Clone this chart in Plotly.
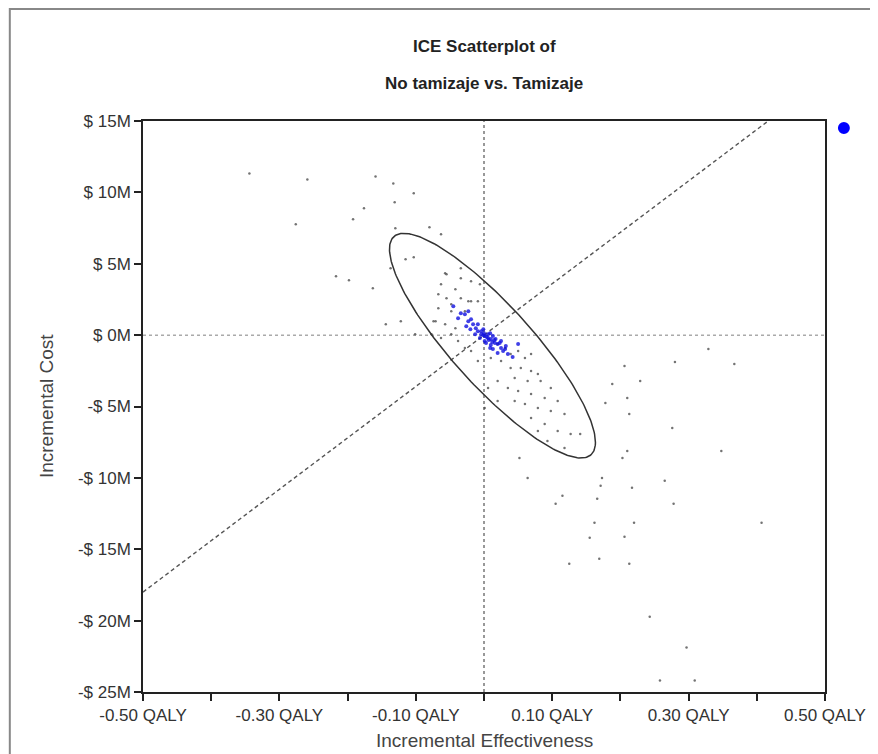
import numpy as np
import plotly.graph_objects as go

# ---------------- data ----------------
title_lines = ["ICE Scatterplot of", "No tamizaje vs. Tamizaje"]
x_title = "Incremental Effectiveness"
y_title = "Incremental Cost"

x_tick_vals = [-0.5, -0.4, -0.3, -0.2, -0.1, 0.0, 0.1, 0.2, 0.3, 0.4, 0.5]
x_tick_text = ["-0.50 QALY", "", "-0.30 QALY", "", "-0.10 QALY", "", "0.10 QALY", "", "0.30 QALY", "", "0.50 QALY"]
y_tick_vals = [15, 10, 5, 0, -5, -10, -15, -20, -25]
y_tick_text = ["$ 15M", "$ 10M", "$ 5M", "$ 0M", "-$ 5M", "-$ 10M", "-$ 15M", "-$ 20M", "-$ 25M"]

# simulation points (incremental QALY, incremental cost in $M)
grey_x = [-0.344, -0.259, -0.159, -0.133, -0.103, -0.176, -0.192, -0.276, -0.131, -0.130, -0.080,
          -0.217, -0.198, -0.163, -0.137, -0.115, -0.103, -0.144, -0.122, -0.101, -0.063, -0.055,
          -0.034, -0.067, -0.048, -0.074, -0.023,
          -0.063, -0.042, -0.055, -0.034, -0.019, -0.009, -0.067, -0.048, -0.028, -0.071, -0.057,
          -0.042, -0.077, -0.063, -0.048, -0.038, 0.020, 0.031, 0.039, 0.050, 0.060, 0.069, 0.025,
          0.039, 0.054, 0.069, 0.079, 0.045, 0.064, 0.083, 0.098, 0.020, 0.035, 0.050, 0.069, 0.089,
          0.108, 0.045, 0.060, 0.079, 0.098, 0.118, 0.069, 0.089, 0.108, 0.127, 0.093, 0.118, 0.141,
          0.079, 0.020, 0.006, 0.001, -0.019, -0.009, 0.010, -0.028, -0.019, -0.006, -0.034, -0.057,
          0.329, 0.280, 0.367, 0.229, 0.206, 0.188, 0.210, 0.178, 0.213, 0.276, 0.348, 0.210, 0.203,
          0.173, 0.171, 0.217, 0.265, 0.278, 0.166, 0.115, 0.105, 0.064, 0.052, 0.162, 0.220, 0.407,
          0.206, 0.155, 0.169, 0.213, 0.125, 0.243, 0.297, 0.258, 0.309]
grey_y = [11.33, 10.91, 11.12, 10.63, 9.93, 8.88, 8.11, 7.76, 9.30, 7.48, 7.55,
          4.13, 3.85, 3.29, 4.69, 5.31, 5.45, 0.77, 0.98, 0.07, 7.06, 4.27,
          3.99, 2.87, 2.17, 0.98, 2.38,
          3.57, 3.22, 2.59, 2.59, 2.38, 2.38, 1.89, 1.68, 1.68, 0.98, 0.77,
          0.49, 0.07, -0.21, 0.07, -0.42, -0.63, -0.91, -1.33, -1.12, -1.61, -1.33, -1.82,
          -2.31, -2.31, -2.52, -2.73, -3.01, -3.22, -3.22, -3.71, -3.22, -3.71, -3.92, -4.13, -4.41,
          -4.62, -4.62, -4.83, -5.10, -5.31, -5.52, -5.80, -6.22, -6.71, -6.92, -7.41, -7.90, -6.92,
          -6.71, -4.62, -3.71, -5.10, -1.12, -1.82, -1.61, -0.91, 3.78, 3.57, 4.69, 4.34,
          -0.98, -1.89, -2.03, -3.22, -2.17, -3.43, -4.41, -4.76, -5.52, -6.50, -8.11, -8.11, -8.60,
          -10.00, -10.56, -10.70, -10.21, -11.82, -11.47, -11.26, -11.82, -10.00, -8.60, -13.15, -13.15, -13.15,
          -14.13, -14.20, -15.66, -16.01, -16.01, -19.72, -21.89, -24.20, -24.20]

blue_x = [-0.009, -0.004, 0.001, 0.006, 0.010, 0.016, 0.020, 0.025, 0.031, -0.012, -0.016, -0.023,
          -0.028, -0.034, -0.020, -0.001, 0.009, 0.013, 0.003, 0.017, 0.023, 0.032, 0.020, 0.013,
          -0.006, -0.013, -0.019, -0.026, 0.028, 0.001, -0.004, 0.006, 0.010, 0.035, -0.038, -0.009,
          0.009, 0.025, -0.001, 0.004, 0.007, 0.000, 0.012, 0.015, -0.045, 0.042, -0.023, 0.050]
blue_y = [0.28, 0.07, -0.07, -0.21, -0.28, -0.56, -0.63, -0.91, -0.98, 0.49, 0.77, 0.98,
          1.47, 1.54, 0.42, 0.42, 0.14, -0.07, -0.56, -0.28, -0.56, -0.77, -1.26, -0.98,
          -0.21, 0.07, 1.12, 0.63, -1.12, -0.42, 0.28, 0.07, -0.70, -1.33, 1.19, 0.77,
          -0.91, -0.42, 0.00, -0.14, -0.35, 0.14, -0.49, -0.35, 2.03, -1.54, 1.68, -0.63]

# confidence ellipse parameters
ell_center = [0.0124, -0.74]
ell_half_range = [0.151, 7.87]
ell_corr = -0.86

# willingness-to-pay line slope ($M per QALY)
wtp_slope = 36.0
wtp_x = [-0.5, 0.5]

# ---------------- figure ----------------
t = np.linspace(0, 2 * np.pi, 241)
ell_x = ell_center[0] + ell_half_range[0] * np.cos(t)
ell_y = ell_center[1] + ell_half_range[1] * (ell_corr * np.cos(t) + np.sqrt(1 - ell_corr ** 2) * np.sin(t))

fig = go.Figure()
fig.add_trace(go.Scatter(x=wtp_x, y=[wtp_slope * v for v in wtp_x], mode="lines",
                         line=dict(color="#555555", width=1.4, dash="4px,3px"), hoverinfo="skip"))
fig.add_trace(go.Scatter(x=grey_x, y=grey_y, mode="markers",
                         marker=dict(size=2.5, color="#444444", opacity=0.75)))
fig.add_trace(go.Scatter(x=blue_x, y=blue_y, mode="markers",
                         marker=dict(size=4, color="#1010e0", opacity=0.8)))
fig.add_trace(go.Scatter(x=ell_x, y=ell_y, mode="lines",
                         line=dict(color="#333333", width=1.5), hoverinfo="skip"))

# zero reference lines
fig.add_shape(type="line", xref="x", yref="paper", x0=0, x1=0, y0=0, y1=1,
              line=dict(color="#777777", width=1.5, dash="dot"), layer="below")
fig.add_shape(type="line", xref="paper", yref="y", x0=0, x1=1, y0=0, y1=0,
              line=dict(color="#aaaaaa", width=1.5, dash="dot"), layer="below")

# outer frame
fig.add_shape(type="rect", xref="paper", yref="paper", x0=-0.1953, x1=1.2, y0=-0.3, y1=1.196,
              line=dict(color="#888888", width=2))
# legend marker
fig.add_shape(type="circle", xref="paper", yref="paper", x0=1.0277 - 6 / 686, x1=1.0277 + 6 / 686,
              y0=0.9877 - 6 / 571, y1=0.9877 + 6 / 571, fillcolor="#0000ff", line=dict(width=0))

font_family = "Liberation Sans, Arial, sans-serif"
fig.add_annotation(text="<b>%s</b>" % title_lines[0], xref="paper", yref="paper", x=0.5, y=1.1296,
                   showarrow=False, font=dict(size=17, color="#222222", family=font_family), yanchor="middle")
fig.add_annotation(text="<b>%s</b>" % title_lines[1], xref="paper", yref="paper", x=0.5, y=1.0648,
                   showarrow=False, font=dict(size=17, color="#222222", family=font_family), yanchor="middle")
fig.add_annotation(text=x_title, xref="paper", yref="paper", x=0.5, y=-0.0858,
                   showarrow=False, font=dict(size=19, color="#444444", family=font_family), yanchor="middle")
fig.add_annotation(text=y_title, xref="paper", yref="paper", x=-0.1414, y=0.5, textangle=-90,
                   showarrow=False, font=dict(size=19, color="#444444", family=font_family), xanchor="center")

axis_common = dict(showgrid=False, zeroline=False, showline=True, linecolor="#222222", linewidth=1.5,
                   mirror=True, ticks="outside", ticklen=7, tickcolor="#222222", tickwidth=1.5,
                   tickfont=dict(size=17, color="#333333", family=font_family))
fig.update_xaxes(range=[-0.5, 0.5], tickmode="array", tickvals=x_tick_vals, ticktext=x_tick_text, **axis_common)
fig.update_yaxes(range=[-25, 15], tickmode="array", tickvals=y_tick_vals, ticktext=y_tick_text, **axis_common)

# page body has an 8px margin: size the figure so that the plot area lands where the reference has it
fig.update_layout(width=870, height=746, showlegend=False,
                  margin=dict(l=135, r=49, t=113, b=62),
                  paper_bgcolor="white", plot_bgcolor="white",
                  font=dict(family=font_family))
fig.write_html("out.html")
